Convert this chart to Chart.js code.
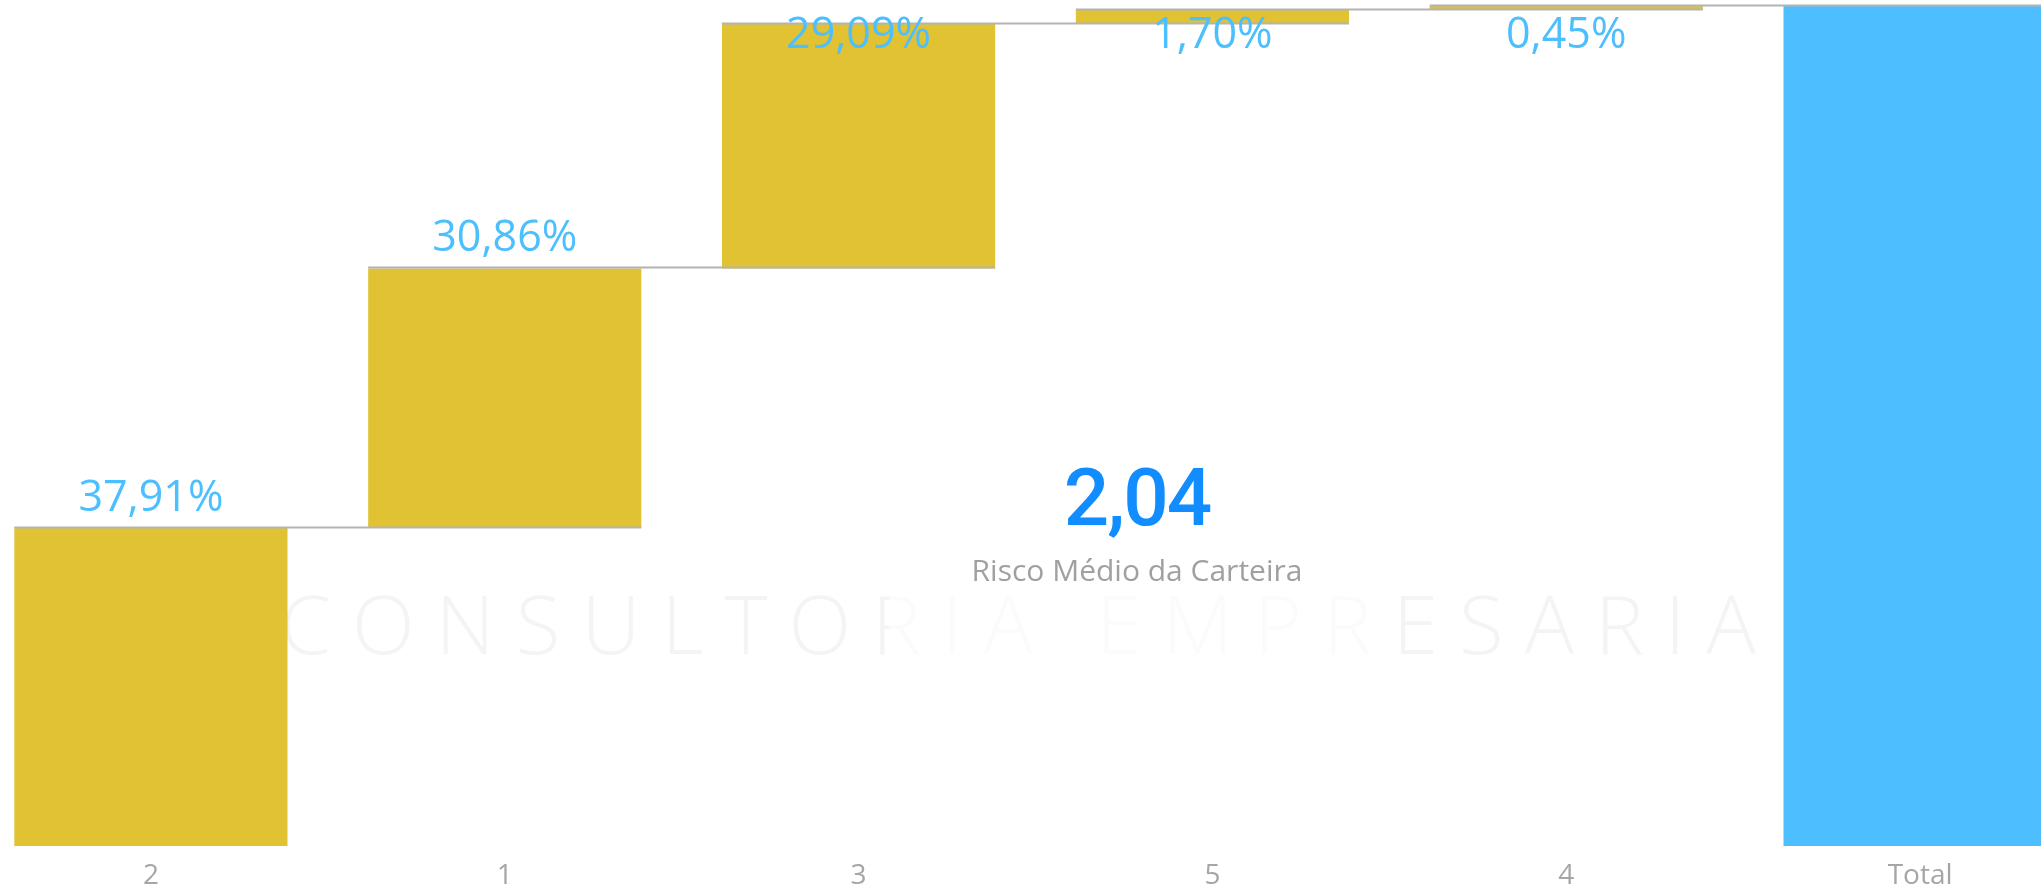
<!DOCTYPE html>
<html>
<head>
<meta charset="utf-8">
<script src="https://cdn.jsdelivr.net/npm/chart.js@4.4.1/dist/chart.umd.min.js"></script>
<style>
  html, body { margin: 0; padding: 0; background: #ffffff; overflow: hidden; }
  body { width: 2041px; height: 892px; position: relative; }
  #watermark {
    position: absolute; left: 280px; top: 572px;
    font-family: 'Open Sans', sans-serif; font-weight: 300; font-size: 82px;
    letter-spacing: 21px; color: #f4f4f4; white-space: nowrap; line-height: 100px;
  }
  #chartWrap { position: absolute; left: -26px; top: 0; width: 2123px; height: 892px; }
  #card {
    position: absolute; left: 889px; top: 388px; width: 496px; height: 300px;
    background: rgba(255, 255, 255, 0.65);
  }
  #riskValue {
    position: absolute; left: 0; width: 100%; top: 60px; text-align: center;
    font-family: Roboto, sans-serif; font-weight: 500; font-size: 80px; line-height: 100px;
    color: #118dff; letter-spacing: -2px;
  }
  #riskLabel {
    position: absolute; left: 0; width: 100%; top: 162px; text-align: center;
    font-family: 'Open Sans', sans-serif; font-size: 30px; line-height: 40px;
    color: #a0a0a0;
  }
</style>
</head>
<body>
<div id="watermark">CONSULTORIA EMPRESARIAL</div>
<div id="chartWrap"><canvas id="riskChart"></canvas></div>
<div id="card">
  <div id="riskValue"></div>
  <div id="riskLabel"></div>
</div>

<script>
const categories = ['2', '1', '3', '5', '4'];
const shares = [37.91, 30.86, 29.09, 1.70, 0.45];
const totalLabel = 'Total';
const riskValue = '2,04';
const riskLabel = 'Risco Médio da Carteira';

const stepColor = '#e0c232';
const totalColor = '#4dbeff';
const labelColor = '#4cbfff';
const connectorColor = '#b3b3b3';

function formatPct(v) {
  return v.toFixed(2).replace('.', ',') + '%';
}

// floating bars: each step starts where the previous one ended
function buildWaterfall() {
  const ranges = [];
  let running = 0;
  shares.forEach((v) => {
    ranges.push([running, running + v]);
    running += v;
  });
  ranges.push([0, running]);
  return { ranges: ranges, total: running };
}

// grey connectors at each level, spanning the bar that ends there and the next one
const connectorPlugin = {
  id: 'connectors',
  afterDatasetsDraw(chart) {
    const meta = chart.getDatasetMeta(0);
    const ranges = chart.data.datasets[0].data;
    const yScale = chart.scales.y;
    const ctx = chart.ctx;
    ctx.save();
    ctx.strokeStyle = connectorColor;
    ctx.lineWidth = 2;
    for (let i = 0; i < meta.data.length - 1; i++) {
      const a = meta.data[i];
      const b = meta.data[i + 1];
      const y = Math.round(yScale.getPixelForValue(ranges[i][1])) - 0.5;
      ctx.beginPath();
      ctx.moveTo(a.x - a.width / 2, y);
      ctx.lineTo(b.x + b.width / 2, y);
      ctx.stroke();
    }
    ctx.restore();
  }
};

const valueLabelPlugin = {
  id: 'valueLabels',
  afterDatasetsDraw(chart) {
    const meta = chart.getDatasetMeta(0);
    const ctx = chart.ctx;
    ctx.save();
    ctx.font = '43px "Open Sans", sans-serif';
    ctx.fillStyle = labelColor;
    ctx.textAlign = 'center';
    ctx.textBaseline = 'alphabetic';
    shares.forEach((v, i) => {
      const bar = meta.data[i];
      let y = bar.y - 17;
      if (y < 48) y = 48;
      ctx.fillText(formatPct(v), bar.x, y);
    });
    ctx.restore();
  }
};

function drawChart() {
  const wf = buildWaterfall();
  const labels = categories.concat([totalLabel]);
  const colors = categories.map(() => stepColor).concat([totalColor]);

  const ctx = document.getElementById('riskChart').getContext('2d');
  new Chart(ctx, {
    type: 'bar',
    data: {
      labels: labels,
      datasets: [{
        data: wf.ranges,
        backgroundColor: colors,
        borderWidth: 0,
        categoryPercentage: 1,
        barPercentage: 0.772,
      }],
    },
    options: {
      responsive: true,
      maintainAspectRatio: false,
      animation: false,
      layout: { padding: { top: 6, left: 0, right: 0, bottom: 0 } },
      plugins: {
        legend: { display: false },
        tooltip: { enabled: false },
      },
      scales: {
        x: {
          grid: { display: false, drawTicks: false },
          border: { display: false },
          ticks: {
            color: '#a6a6a6',
            padding: 13,
            font: { family: 'Open Sans', size: 28 },
          },
          afterFit(scale) { scale.height = 46; },
        },
        y: {
          display: false,
          min: 0,
          max: wf.total,
        },
      },
    },
    plugins: [connectorPlugin, valueLabelPlugin],
  });
}

document.addEventListener('DOMContentLoaded', () => {
  document.getElementById('riskValue').textContent = riskValue;
  document.getElementById('riskLabel').textContent = riskLabel;
  drawChart();
});
</script>
</body>
</html>
